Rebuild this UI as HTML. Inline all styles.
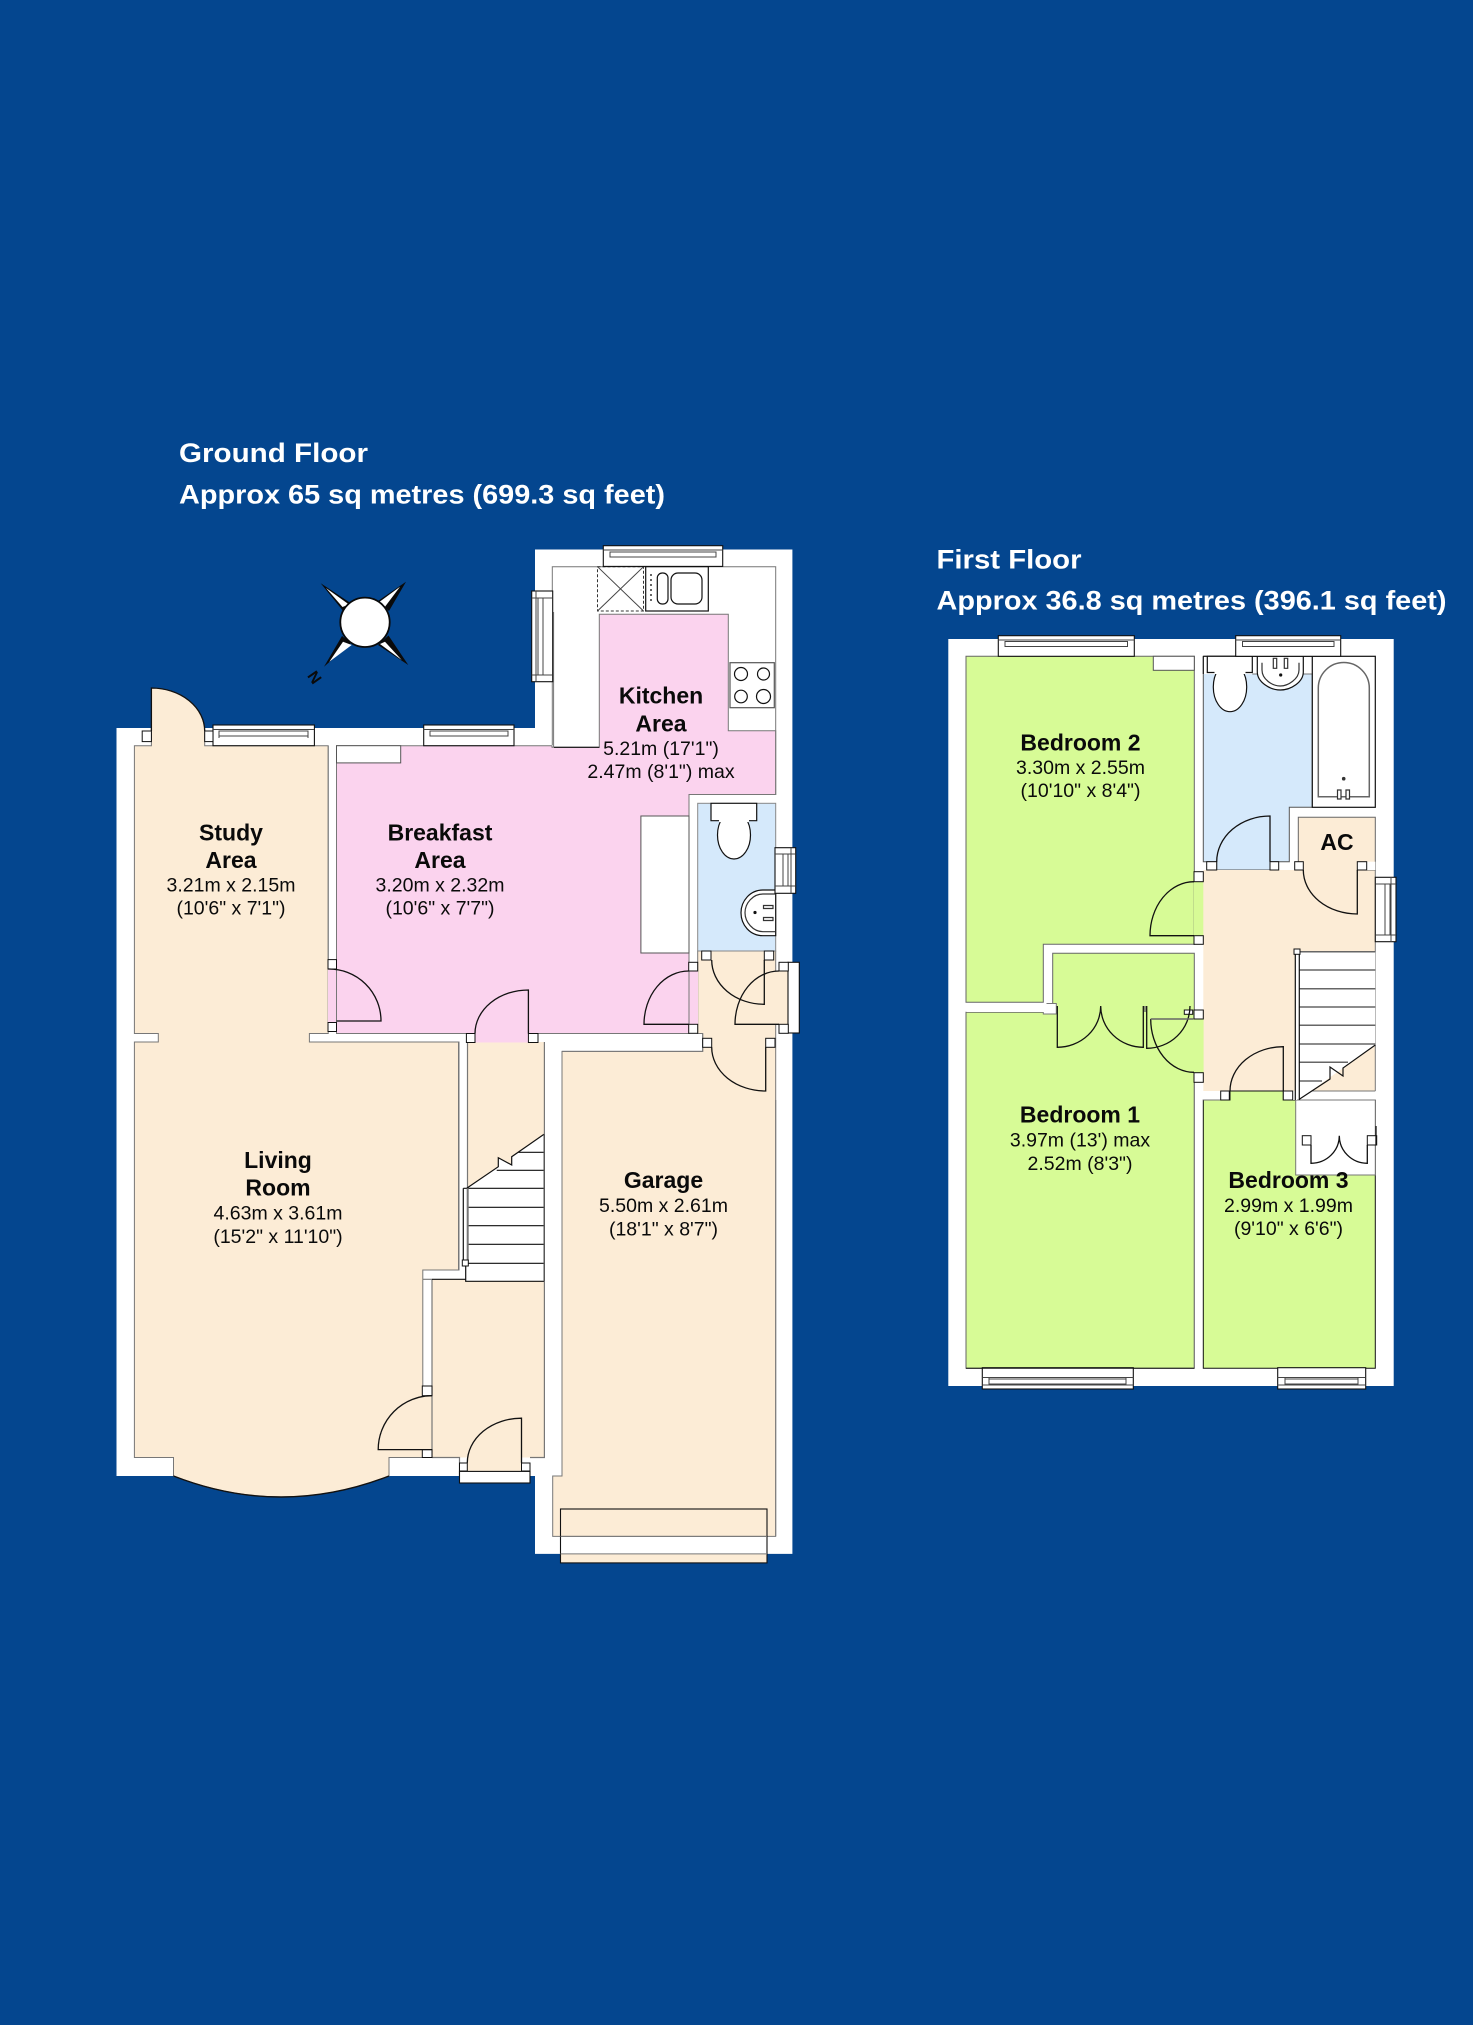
<!DOCTYPE html>
<html><head><meta charset="utf-8"><title>Floor plan</title>
<style>html,body{margin:0;padding:0;background:#04468f}svg{display:block}
text{font-family:"Liberation Sans",Arial,sans-serif;fill:#0a0a0a;text-anchor:middle}
.b{font-weight:bold;font-size:23px}.r{font-size:19.5px}
.t{font-weight:bold;font-size:27px;fill:#fff;text-anchor:start}
</style></head><body>
<svg width="1473" height="2025" viewBox="0 0 1473 2025" xmlns="http://www.w3.org/2000/svg">
<rect width="1473" height="2025" fill="#04468f"/>
<text class="t" x="179" y="462" textLength="189" lengthAdjust="spacingAndGlyphs">Ground Floor</text>
<text class="t" x="179" y="503.5" textLength="486" lengthAdjust="spacingAndGlyphs">Approx 65 sq metres (699.3 sq feet)</text>
<text class="t" x="936.5" y="568.5" textLength="145" lengthAdjust="spacingAndGlyphs">First Floor</text>
<text class="t" x="936.5" y="609.5" textLength="510" lengthAdjust="spacingAndGlyphs">Approx 36.8 sq metres (396.1 sq feet)</text>

<!-- GROUND FLOOR -->
<path fill="#fff" d="M116.5 728H535V549.5H792.4V1553.9H535V1476H116.5Z"/>
<!-- beige -->
<g fill="#fcecd6">
<path stroke="#777" stroke-width="1" d="M134.4 745.7H151.4V688A53.3 43 0 0 1 204.7 731V745.7H328.2V1033.5H309.4V1042H459V1270H422.8V1457.5H389V1476Q281 1518 173.5 1476V1457.5H134.4V1042H158.3V1033.5H134.4Z"/>
<rect x="422" y="1395.7" width="10.5" height="54"/>
<rect x="467.5" y="1042" width="76.9" height="240"/>
<rect x="432" y="1279.3" width="112.4" height="178.2"/>
<rect x="467.3" y="1450" width="54.2" height="21"/>
<path stroke="#777" stroke-width="1" d="M562 1051.4H702.7V1033.5H697.7V951H775.7V1536.4H552.7V1476H562Z"/>
<rect x="775" y="971" width="13.3" height="53.3"/>
<rect x="560.5" y="1553.9" width="206.5" height="9"/>
</g>
<path fill="none" stroke="#111" stroke-width="1.4" d="M173.5 1476Q281 1518 389 1476"/>
<path fill="none" stroke="#777" stroke-width="1.2" d="M432 1457.5V1279.3M422.8 1279.3H432M544.4 1042V1457.5H530M432 1457.5H459.5V1476M458.6 1042V1270M467.5 1042V1188"/>
<!-- pink -->
<path fill="#fbd3ee" stroke="#777" stroke-width="1" d="M336.5 745.7H552V747.3H599.3V614.3H728.3V730.7H775.7V794.5H689V1033.5H336.5Z"/>
<rect x="328" y="969" width="9" height="54" fill="#fbd3ee"/>
<rect x="475" y="1033" width="53.4" height="9.5" fill="#fbd3ee"/>
<rect x="688" y="971" width="10" height="53.3" fill="#fbd3ee"/>
<path fill="none" stroke="#777" stroke-width="1" d="M552.3 745V566.7H775.7V795M553.6 612V747"/>
<path fill="none" stroke="#111" stroke-width="1.2" d="M554 747.3H599.3"/>
<!-- WC -->
<rect x="697.7" y="803.3" width="78" height="147.7" fill="#d5e9fb" stroke="#888" stroke-width="1"/>
<path fill="none" stroke="#777" stroke-width="1" d="M689 794.5V1033.5M336.5 746V1033.5M328.2 746V960M309.4 1042H459M562 1051.4H702.7V1033.5M775.7 1100V1536"/>
<!-- stairs -->
<path fill="#fff" d="M466.7 1188.3L498.3 1166.7V1157.7L511.7 1165V1156.7L544 1134.3V1281.3H465.7V1188.3Z"/>
<path fill="none" stroke="#111" stroke-width="1.2" d="M466.7 1188.3L498.3 1166.7V1157.7L511.7 1165V1156.7L544 1134.3M518.3 1152.3H544M496.7 1170.3H544M463.3 1188.3H544M467.7 1207.3H544M467.7 1225.7H544M467.7 1244.3H544M467.7 1263.3H544M463.3 1188.3V1260M465.7 1266V1281.3H544"/>
<path fill="none" stroke="#777" stroke-width="2" d="M467.7 1188.3V1263"/>
<path fill="none" stroke="#555" stroke-width="1.4" d="M544.2 1134.3V1281.3"/>
<path fill="none" stroke="#111" stroke-width="1.2" d="M432 1279.3H465.7"/>
<path fill="none" stroke="#777" stroke-width="1" d="M458.6 1270H422.8"/>
<rect x="462.3" y="1260" width="6" height="6" fill="#fff" stroke="#111"/>
<!-- counter etc -->
<g fill="#fff" stroke="#555" stroke-width="1">
<rect x="336.5" y="745.7" width="64.2" height="17.2"/>
<rect x="640.9" y="816" width="48.1" height="137"/>
</g>
<!-- kitchen fittings -->
<g fill="#fff" stroke="#111" stroke-width="1.2">
<rect x="645.7" y="566.7" width="62.6" height="44.3"/>
<rect x="657.3" y="573" width="10.7" height="31" rx="5"/>
<rect x="671" y="573" width="31" height="31" rx="7"/>
<rect x="730" y="662.7" width="44.3" height="45" stroke="#555"/>
<circle cx="741" cy="674" r="6.5"/><circle cx="763.5" cy="674" r="6"/>
<circle cx="741" cy="696.5" r="6.3"/><circle cx="763.5" cy="696.5" r="7"/>
</g>
<path fill="none" stroke="#333" stroke-width="1" stroke-dasharray="3 2" d="M597.5 566.7H643.5V611H597.5Z"/>
<path fill="none" stroke="#444" stroke-width="1" d="M597.5 566.7L643.5 611M643.5 566.7L597.5 611"/>
<path fill="none" stroke="#333" stroke-width="1.5" stroke-dasharray="2 3" d="M651 574V604"/>
<!-- toilet & sink -->
<g fill="#fff" stroke="#111" stroke-width="1.2">
<ellipse cx="734" cy="835" rx="16.5" ry="24"/>
<path d="M711 803.3H756.7V820.7H749V820.7H719V820.7H711Z"/>
<path d="M775.7 890H763C750 890 741 901 741 912.8C741 925 750 935.7 763 935.7H775.7Z"/>
<path fill="none" stroke="#333" d="M775.7 894H763C753 894 745 903 745 912.8C745 922 753 931.7 763 931.7H775.7"/>
<path stroke="#333" d="M763.5 905.5H773V908.5H763.5ZM763.5 917.5H773V920.5H763.5Z"/>
</g>
<rect x="719" y="818" width="30" height="4" fill="#fff"/>
<circle cx="755" cy="912.5" r="1.6" fill="#111"/>
<!-- windows ground -->
<g fill="#fff" stroke="#111" stroke-width="1.1">
<rect x="213" y="725" width="101.4" height="20.7"/>
<rect x="423.7" y="725" width="90.3" height="20.7"/>
<rect x="603.3" y="545.7" width="119.4" height="20.7"/>
<rect x="531.7" y="591" width="21" height="90.7"/>
<rect x="775" y="847.7" width="20.7" height="45.6"/>
<rect x="788" y="962.3" width="11.3" height="70.7"/>
<rect x="459.5" y="1471.4" width="70.5" height="11.6"/>
<rect x="560.5" y="1509" width="206.5" height="53.9" fill="none"/>
</g>
<path fill="#fff" stroke="#777" stroke-width="1" d="M560.5 1536.4H767M560.5 1553.9H767"/>
<g fill="none" stroke="#444" stroke-width="1">
<rect x="219" y="731" width="89" height="5"/><path d="M213 729.5H314M219 731V738M308 731V738"/>
<rect x="430" y="731" width="78" height="5"/><path d="M423.7 729.5H514"/>
<rect x="610" y="552" width="106" height="5"/><path d="M603.3 550H722.7"/>
<rect x="538" y="598" width="5" height="77"/><path d="M536 591V681M531.7 598H552M531.7 675H552"/>
<rect x="783" y="854" width="5" height="32"/><path d="M775 854H795.7M775 886H795.7M791 848V893"/>
</g>
<!-- jambs -->
<g fill="#fff" stroke="#111" stroke-width="1">
<rect x="142.2" y="731" width="9.2" height="10.6"/>
<rect x="204.7" y="731" width="8.3" height="10.6"/>
<rect x="328" y="959.6" width="8.5" height="9.4"/>
<rect x="328" y="1022.5" width="8.5" height="9"/>
<rect x="466.4" y="1033.5" width="8.6" height="9"/>
<rect x="528.4" y="1033.5" width="9.6" height="9"/>
<rect x="701.7" y="951" width="9.3" height="9"/>
<rect x="764.3" y="951" width="9.4" height="9"/>
<rect x="779" y="962.3" width="9.3" height="8.7"/>
<rect x="779" y="1024.3" width="9.3" height="9"/>
<rect x="688.7" y="962.3" width="9" height="8.7"/>
<rect x="688.7" y="1024.3" width="9" height="9"/>
<rect x="702.7" y="1038.3" width="9" height="9"/>
<rect x="765.7" y="1038.3" width="9.3" height="9"/>
<rect x="422.3" y="1386" width="9.7" height="9.7"/>
<rect x="422.3" y="1449.6" width="9.7" height="7.9"/>
<rect x="459.5" y="1463" width="7.8" height="8"/>
<rect x="521.5" y="1463" width="8.5" height="8"/>
</g>
<!-- doors ground -->
<g fill="none" stroke="#111" stroke-width="1.3">
<path d="M151.4 731V688A53.3 43 0 0 1 204.7 731"/>
<path d="M336.5 1021H381A52 52 0 0 0 328 969"/>
<path d="M528.4 1033.5V990A53.4 43.5 0 0 0 475 1033.5"/>
<path d="M764.3 960V1004.3A52.6 44.3 0 0 1 711.7 960"/>
<path d="M779 1024.3H735A44 53.3 0 0 1 779 971"/>
<path d="M688.7 1024.3H644A44.7 53.3 0 0 1 688.7 971"/>
<path d="M765.7 1047.3V1091A54 43.7 0 0 1 711.7 1047.3"/>
<path d="M432 1449.6H378.2A53.8 53.9 0 0 1 432 1395.7"/>
<path d="M521.5 1462.8V1418.2A54.2 44.6 0 0 0 467.3 1462.8"/>
</g>
<!-- compass -->
<g fill="#0a0a0a">
<path d="M320.7 583.3L350.5 603L344 612Z"/>
<path d="M406 581.7L378 601L389 611Z"/>
<path d="M408.3 665L388.5 635.5L378 645Z"/>
<path d="M324 666.7L342 636L351 643Z"/>
</g>
<g fill="#fff">
<path d="M326 588L349 604.5L342.5 607Z"/>
<path d="M400 586.7L378.3 602.7L385 606.7Z"/>
<path d="M401.7 660L380 644L385 641.7Z"/>
<path d="M329.3 661.7L351.7 645L343 641.7Z"/>
</g>
<circle cx="365" cy="622.3" r="24.7" fill="#fff" stroke="#0a0a0a" stroke-width="1.8"/>
<text x="0" y="0" transform="translate(315 677) rotate(55) translate(0 6)" style="font-weight:bold;font-size:16px;fill:#0a0a0a">N</text>

<!-- FIRST FLOOR -->
<rect x="948.3" y="639" width="445.4" height="747" fill="#fff"/>
<!-- bedrooms -->
<g fill="#d7fb96" stroke="#666" stroke-width="1">
<path d="M966 656.3H1194.3V944.3H1043.3V1002.3H966Z"/>
<path d="M1052.7 953.3H1194.3V1018.3H1203.3V1077H1194.3V1368.3H966V1012.3H1052.7Z"/>
</g>
<rect x="1194" y="881.7" width="10" height="54" fill="#d7fb96"/>
<rect x="1043.3" y="1003.5" width="13" height="10.5" fill="#fff" stroke="#777" stroke-width="1"/>
<rect x="966.5" y="1003" width="80" height="9" fill="#fff"/>
<rect x="1153.3" y="656.3" width="41" height="14" fill="#fff" stroke="#555"/>
<!-- blue bath -->
<path fill="#d5e9fb" stroke="#555" stroke-width="1" d="M1203.3 656.3V861.7H1216.7V870H1270V861.7H1289.3V807.3H1312.3V656.3Z"/>
<rect x="1203.8" y="656.3" width="108" height="17.8" fill="#fff"/>
<path fill="none" stroke="#111" stroke-width="1.1" d="M1203.3 656.3H1312.3M1203.3 656.3V674"/>
<path fill="none" stroke="#777" stroke-width="1" d="M1252.3 674H1312.3"/>
<!-- landing beige -->
<path fill="#fcecd6" d="M1203.3 870H1375.3V1091H1203.3Z"/>
<path fill="#fcecd6" stroke="#666" stroke-width="1" d="M1298.3 861.7V817.3H1375.3V870H1298.3Z"/>
<rect x="1299" y="858" width="58" height="14" fill="#fcecd6"/>
<rect x="1366.7" y="861.7" width="8.6" height="8.3" fill="#fff"/>
<rect x="1194" y="1018.8" width="9.6" height="54.5" fill="#d7fb96"/>
<!-- bed 3 -->
<path fill="#d7fb96" stroke="#111" stroke-width="1" d="M1203.3 1100H1230V1091H1283.3V1100H1375.3V1368.3H1203.3Z"/>
<rect x="1295.7" y="1100" width="79.6" height="75" fill="#fff" stroke="#777" stroke-width="1"/>
<rect x="1203.3" y="1091" width="17.4" height="9" fill="#fff"/>
<rect x="1292.7" y="1091" width="82.6" height="9" fill="#fff"/>
<path fill="none" stroke="#777" stroke-width="1" d="M1203.3 1100H1220.7M1297 1100H1375.3M1299 1091H1375.3M1375.3 870V1091M1194.3 1077V1368"/>
<!-- bath -->
<g fill="#fff" stroke="#111" stroke-width="1.2">
<rect x="1312.3" y="656.3" width="63" height="151"/>
<path stroke="#666" stroke-width="1.5" d="M1318.3 796.7V688A25.5 25.5 0 0 1 1369.3 688V796.7Z"/>
<path stroke="#333" d="M1337.5 790H1341V799H1337.5ZM1346 790H1349.5V799H1346Z"/>
<ellipse cx="1230" cy="687" rx="16.7" ry="24.7"/>
<path d="M1207.3 656.3H1252.3V672.5H1207.3Z"/>
<path d="M1257.3 656.3V672C1257.3 682 1270 690 1280.3 690C1291 690 1303.3 682 1303.3 672V656.3Z"/>
<path fill="none" stroke="#333" d="M1262 662.7V670C1262 679 1272 686 1280.3 686C1288 686 1299 679 1299 670V662.7"/>
<path stroke="#333" d="M1273.3 658.3H1276.7V668.3H1273.3ZM1284.3 658.3H1287.7V668.3H1284.3Z"/>
</g>
<rect x="1214.5" y="670" width="31" height="4" fill="#fff"/>
<circle cx="1280.7" cy="675" r="1.6" fill="#111"/>
<circle cx="1343.7" cy="778.7" r="1.8" fill="#333"/>
<!-- stairs first -->
<path fill="#fff" d="M1295.7 951.7H1375.3V1045L1299.3 1099.3H1295.7Z"/>
<path fill="none" stroke="#666" stroke-width="1.5" d="M1299.3 951.7H1375.3M1299.3 970H1375.3M1299.3 988.7H1375.3M1299.3 1007H1375.3M1299.3 1025.3H1375.3M1299.3 1044H1375.3M1299.3 1062.3H1348M1299.3 1081H1322"/>
<path fill="none" stroke="#111" stroke-width="1.2" d="M1375.3 1045L1343 1068V1076L1330 1067V1079L1299.3 1099.3M1295.3 953V1100M1299.3 953V1100"/>
<rect x="1294" y="949" width="6" height="5.3" fill="#fff" stroke="#111"/>
<!-- windows first -->
<g fill="#fff" stroke="#111" stroke-width="1.1">
<rect x="998.3" y="635.7" width="136" height="20.6"/>
<rect x="1235.7" y="635.7" width="105" height="20.6"/>
<rect x="1375.3" y="877.3" width="20.7" height="64.4"/>
<rect x="982.3" y="1367.7" width="151" height="21.3"/>
<rect x="1277.7" y="1367.7" width="88" height="21.3"/>
</g>
<g fill="none" stroke="#444" stroke-width="1">
<rect x="1005" y="641.5" width="122.5" height="5"/><path d="M998.3 640H1134.3M1005 641V647M1127.5 641V647"/>
<rect x="1242.5" y="641.5" width="91.5" height="5"/><path d="M1235.7 640H1340.7M1242.5 641V647M1334 641V647"/>
<rect x="1385" y="884" width="5" height="51"/><path d="M1375.3 884H1396M1375.3 935H1396M1391 877V942"/>
<rect x="989" y="1379" width="137" height="5"/><path d="M982.3 1377.5H1133.3M982.3 1385H1133.3M989 1378V1385M1126 1378V1385"/>
<rect x="1285" y="1379" width="73" height="5"/><path d="M1277.7 1377.5H1365.7M1277.7 1385H1365.7M1285 1378V1385M1358 1378V1385"/>
</g>
<path fill="none" stroke="#111" stroke-width="1" d="M966 1368.3H1194.3"/>
<!-- jambs first -->
<g fill="#fff" stroke="#111" stroke-width="1">
<rect x="1206.7" y="861.7" width="10" height="8.3"/>
<rect x="1270" y="861.7" width="8.7" height="8.3"/>
<rect x="1294.7" y="861.7" width="8.6" height="8.3"/>
<rect x="1357.3" y="861.7" width="9.4" height="8.3"/>
<rect x="1194" y="871.7" width="9.3" height="10"/>
<rect x="1194" y="935.7" width="9.3" height="8.6"/>
<rect x="1194" y="1010" width="9.3" height="9"/>
<rect x="1184.3" y="1010" width="8.4" height="4.3"/>
<rect x="1194" y="1072.7" width="9.3" height="9.6"/>
<rect x="1220.7" y="1091" width="8.6" height="9"/>
<rect x="1283.3" y="1091" width="9.4" height="9"/>
<rect x="1302.3" y="1135.7" width="8.7" height="9.3"/>
<rect x="1367.3" y="1135.7" width="9.4" height="9.3"/>
</g>
<!-- doors first -->
<g fill="none" stroke="#111" stroke-width="1.3">
<path d="M1270 861.7V816A53.3 45.7 0 0 0 1216.7 861.7"/>
<path d="M1357.3 870V914A54 44 0 0 1 1303.3 870"/>
<path d="M1194 935.7H1150A44 54 0 0 1 1194 881.7"/>
<path d="M1283.3 1091V1046.7A53.3 44.3 0 0 0 1230 1091"/>
<path d="M1150.7 1019A43.3 53.3 0 0 0 1194 1072.3"/>
<path d="M1057.3 1006V1047.3A43.4 41.3 0 0 0 1100.7 1006A42.6 41.3 0 0 0 1143.3 1047.3V1006"/>
<path d="M1146.7 1006V1048.3A43.3 42.3 0 0 0 1190 1006"/>
<path d="M1311 1145V1163.3A28.3 27.6 0 0 0 1339.3 1135.7A28 27.6 0 0 0 1367.3 1163.3V1145"/>
<path d="M1376 1126V1145"/>
</g>
<path fill="none" stroke="#666" stroke-width="1.4" d="M1150.7 1019H1193.3M1145 1006V1012"/>

<!-- labels -->
<text class="b" x="661" y="703.5">Kitchen</text><text class="b" x="661" y="731.5">Area</text>
<text class="r" x="661" y="755">5.21m (17'1")</text><text class="r" x="661" y="778">2.47m (8'1") max</text>
<text class="b" x="231" y="840.5">Study</text><text class="b" x="231" y="868">Area</text>
<text class="r" x="231" y="891.5">3.21m x 2.15m</text><text class="r" x="231" y="914.5">(10'6" x 7'1")</text>
<text class="b" x="440" y="840.5">Breakfast</text><text class="b" x="440" y="868">Area</text>
<text class="r" x="440" y="891.5">3.20m x 2.32m</text><text class="r" x="440" y="914.5">(10'6" x 7'7")</text>
<text class="b" x="278" y="1168">Living</text><text class="b" x="278" y="1195.5">Room</text>
<text class="r" x="278" y="1219.5">4.63m x 3.61m</text><text class="r" x="278" y="1243">(15'2" x 11'10")</text>
<text class="b" x="663.5" y="1188">Garage</text>
<text class="r" x="663.5" y="1212">5.50m x 2.61m</text><text class="r" x="663.5" y="1235.5">(18'1" x 8'7")</text>
<text class="b" x="1080.5" y="750.5">Bedroom 2</text>
<text class="r" x="1080.5" y="774">3.30m x 2.55m</text><text class="r" x="1080.5" y="797">(10'10" x 8'4")</text>
<text class="b" x="1337" y="850">AC</text>
<text class="b" x="1080" y="1122.5">Bedroom 1</text>
<text class="r" x="1080" y="1146.5">3.97m (13') max</text><text class="r" x="1080" y="1170">2.52m (8'3")</text>
<text class="b" x="1288.5" y="1188">Bedroom 3</text>
<text class="r" x="1288.5" y="1212">2.99m x 1.99m</text><text class="r" x="1288.5" y="1235">(9'10" x 6'6")</text>
</svg>
</body></html>
